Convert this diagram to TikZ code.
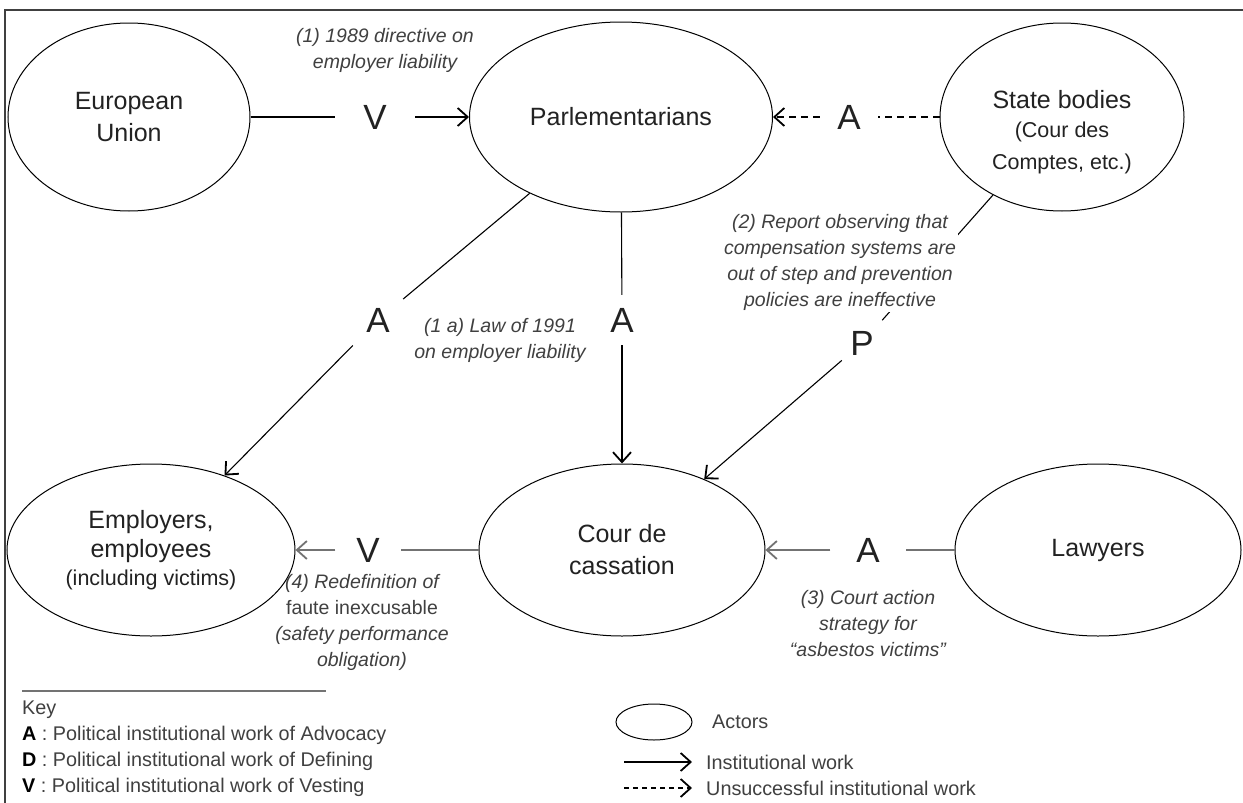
\documentclass[tikz,border=0pt]{standalone}
\usepackage{fontspec}
\setmainfont{Liberation Sans}
\usetikzlibrary{arrows.meta,shapes.geometric}
\definecolor{txt}{HTML}{222222}
\definecolor{itx}{HTML}{404040}
\tikzset{
  actor/.style={draw=black, line width=1pt, ellipse, inner sep=0pt, align=center, text=txt,
     font=\fontsize{25}{32}\selectfont},
  lbl/.style={inner sep=0pt, text=txt, font=\fontsize{35}{35}\selectfont},
  itl/.style={align=center, text=itx, inner sep=2pt, font=\fontsize{19.5}{26}\selectfont\itshape},
  ln/.style={draw=black, line width=1.1pt},
  gln/.style={draw=black!55, line width=2pt},
  arr/.style={-{Straight Barb[length=10pt,width=18pt,line width=1.8pt]}},
  dsh/.style={dash pattern=on 7pt off 5pt},
  ldsh/.style={dash pattern=on 5pt off 4pt},
  leg/.style={anchor=west, text=itx, inner sep=0pt, font=\fontsize{19.8}{22}\selectfont},
}
\newcommand{\subsz}{\fontsize{21.5}{27}\selectfont}
\begin{document}
\begin{tikzpicture}[x=1pt,y=-1pt]
\useasboundingbox (0,0) rectangle (1243,803);
\fill[white] (0,0) rectangle (1243,803);
\draw[line width=2pt, black!75] (5,803) -- (5,10) -- (1243,10);

% actors
\node[actor, minimum width=242, minimum height=188] (EU) at (129,117) {European\\Union};
\node[actor, minimum width=303, minimum height=190] (Parl) at (621,117) {Parlementarians};
\node[actor, minimum width=244, minimum height=188] (State) at (1062,117) {};
\node[align=center, text=txt, inner sep=0pt, font=\fontsize{25}{32}\selectfont] (StateT) at (1062,132)
   {State bodies\\[-3pt]{\subsz(Cour des}\\{\subsz Comptes, etc.)}};
\node[actor, minimum width=288, minimum height=172] (Emp) at (151,550)
   {Employers,\\[-3pt]employees\\[-4pt]{\subsz(including victims)}};
\node[actor, minimum width=286, minimum height=172] (Cour) at (622,550) {Cour de\\cassation};
\node[actor, minimum width=286, minimum height=172] (Law) at (1098,550) {Lawyers};

% work labels
\node[lbl, minimum width=80, minimum height=40] (v1) at (375,117) {V};
\node[lbl, minimum width=58, minimum height=40] (a1) at (849,117) {A};
\node[lbl, minimum width=50, minimum height=54] (a2) at (378,320) {A};
\node[lbl, minimum width=40, minimum height=50] (a3) at (622,320) {A};
\node[lbl, minimum width=40, minimum height=46] (p) at (862,343) {P};
\node[lbl, minimum width=65, minimum height=40] (v2) at (368,550) {V};
\node[lbl, minimum width=75, minimum height=40] (a4) at (868,550) {A};

% connectors
\draw[ln] (EU) -- (v1);
\draw[ln,arr] (v1) -- (Parl);
\draw[ln,dsh] (State) -- (a1);
\draw[ln,dsh,arr] (a1) -- (Parl);
\draw[ln] (Parl) -- (a2);
\draw[ln,arr] (a2) -- (Emp);
\draw[ln] (Parl) -- (a3);
\draw[ln,arr] (a3) -- (Cour);
\draw[ln] (State) -- (p);
\draw[ln,arr] (p) -- (Cour);
\draw[gln] (Cour) -- (v2);
\draw[gln,arr] (v2) -- (Emp);
\draw[gln] (Law) -- (a4);
\draw[gln,arr] (a4) -- (Cour);

% descriptions
\node[itl] (t1) at (385,50) {(1) 1989 directive on\\employer liability};
\node[itl, fill=white] (t2) at (840,262) {(2) Report observing that\\compensation systems are\\out of step and prevention\\policies are ineffective};
\node[itl] (t1a) at (500,340) {(1 a) Law of 1991\\on employer liability};
\node[itl] (t4) at (362,622) {(4) Redefinition of\\{\upshape faute inexcusable}\\(safety performance\\obligation)};
\node[itl] (t3) at (868,624) {(3) Court action\\strategy for\\“asbestos victims”};

% key
\draw[draw=black!55, line width=1.5pt] (22,691) -- (326,691);
\node[leg] (k0) at (22,710) {Key};
\node[leg] (k1) at (22,735) {{\color{black}\bfseries A} : Political institutional work of Advocacy};
\node[leg] (k2) at (22,761) {{\color{black}\bfseries D} : Political institutional work of Defining};
\node[leg] (k3) at (22,787) {{\color{black}\bfseries V} : Political institutional work of Vesting};

\node[draw=black, line width=1pt, ellipse, minimum width=76, minimum height=36, inner sep=0pt] (le) at (654,722) {};
\node[leg] (l1) at (712,722) {Actors};
\coordinate (s1) at (624,762);
\node[leg] (l2) at (706,762) {Institutional work};
\draw[ln,arr,shorten >=14pt] (s1) -- (l2);
\coordinate (s2) at (624,788);
\node[leg] (l3) at (706,788) {Unsuccessful institutional work};
\draw[ln,ldsh,arr,shorten >=14pt] (s2) -- (l3);
\end{tikzpicture}
\end{document}
